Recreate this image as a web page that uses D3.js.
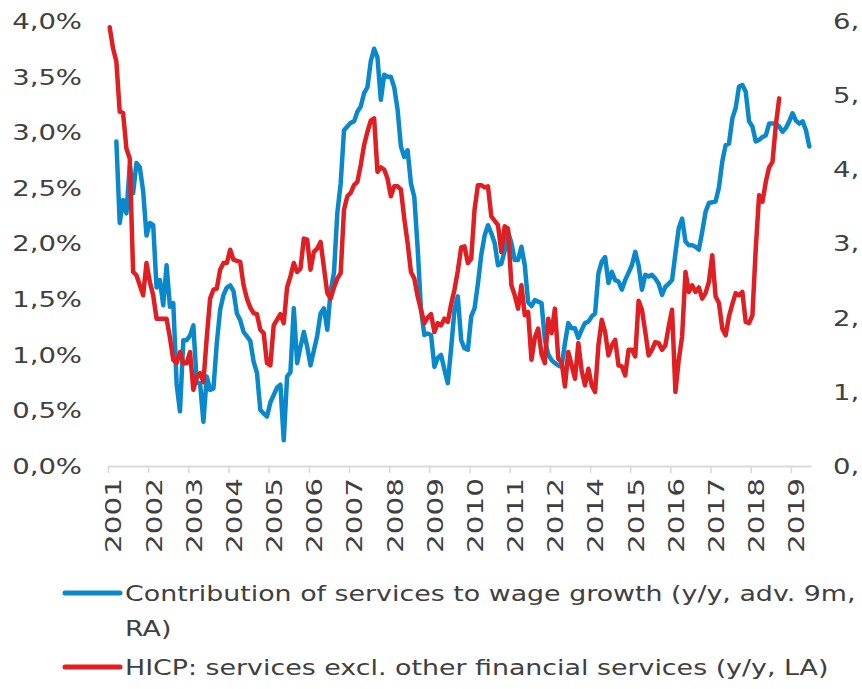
<!DOCTYPE html>
<html><head><meta charset="utf-8">
<script src="https://cdn.jsdelivr.net/npm/d3@7"></script>
<style>body{margin:0;background:#fff;overflow:hidden}svg{display:block}</style>
</head><body><svg id="c" width="862" height="689"></svg>
<script>
// ---------------- data ----------------
const nCategories = 210; // monthly categories, Jan 2001 onwards
const tickLabels = ["2001","2002","2003","2004","2005","2006","2007","2008","2009","2010","2011","2012","2014","2015","2016","2017","2018","2019"];
const leftTicks = [0, 0.5, 1, 1.5, 2, 2.5, 3, 3.5, 4];
const rightTicks = [0, 1, 2, 3, 4, 5, 6];

// HICP: services excl. other financial services (y/y, LA), %
const hicpServices = [
 3.94,3.75,3.63,3.18,3.17,2.85,2.76,1.74,1.71,1.62,
 1.53,1.82,1.65,1.53,1.32,1.32,1.32,1.32,1.15,0.95,
 0.92,1.02,0.92,0.92,1.02,0.68,0.80,0.83,0.75,1.15,
 1.50,1.58,1.59,1.76,1.82,1.82,1.94,1.85,1.84,1.83,
 1.62,1.50,1.42,1.37,1.36,1.22,1.19,0.92,0.90,1.26,
 1.31,1.36,1.28,1.60,1.70,1.82,1.74,1.77,2.04,2.03,
 1.76,1.92,1.95,2.01,1.78,1.55,1.50,1.60,1.68,1.73,
 2.30,2.42,2.45,2.52,2.55,2.70,2.88,3.00,3.10,3.12,
 2.64,2.68,2.66,2.58,2.42,2.51,2.51,2.48,2.22,2.00,
 1.74,1.68,1.52,1.40,1.28,1.33,1.36,1.20,1.28,1.26,
 1.32,1.29,1.45,1.58,1.75,1.96,1.97,1.82,1.86,2.30,
 2.52,2.52,2.50,2.51,2.24,2.20,2.16,1.92,2.15,2.13,
 1.62,1.53,1.41,1.62,1.35,1.38,0.95,1.15,1.23,1.00,
 0.92,1.32,1.19,1.41,0.96,0.93,0.71,1.02,0.90,0.78,
 1.10,0.85,0.72,0.87,0.72,0.66,1.08,1.31,1.20,0.99,
 1.08,1.13,0.90,0.89,0.81,1.04,1.04,0.98,1.48,1.40,
 1.20,0.99,1.04,1.11,1.10,1.04,1.08,1.25,1.40,0.66,
 0.95,1.16,1.74,1.56,1.62,1.56,1.60,1.50,1.55,1.65,
 1.89,1.52,1.46,1.23,1.17,1.34,1.45,1.55,1.53,1.56,
 1.29,1.28,1.35,1.95,2.43,2.37,2.55,2.68,2.73,3.06,
 3.30
];

// Contribution of services to wage growth (y/y, adv. 9m, RA)
const wageContribution = [
 null,null,4.37,3.27,3.58,3.40,4.05,3.67,4.08,4.02,
 3.70,3.10,3.27,3.24,2.40,2.50,2.16,2.70,2.14,2.19,
 1.10,0.73,1.69,1.69,1.75,1.89,1.12,1.11,0.59,1.20,
 1.02,1.04,1.65,2.10,2.30,2.40,2.43,2.35,2.05,1.96,
 1.80,1.74,1.68,1.40,1.25,0.75,0.70,0.66,0.85,0.95,
 1.05,1.09,0.34,1.20,1.26,2.12,1.38,1.60,1.80,1.60,
 1.35,1.55,1.75,2.05,2.12,1.83,2.35,2.60,3.40,3.80,
 4.52,4.57,4.62,4.64,4.77,4.84,5.02,5.10,5.45,5.62,
 5.50,4.93,5.27,5.24,5.24,5.10,4.80,4.30,4.16,4.25,
 3.80,3.62,2.93,2.10,1.76,1.78,1.76,1.33,1.45,1.49,
 1.29,1.11,1.58,2.10,2.28,1.69,1.58,1.56,2.01,2.12,
 2.45,2.84,3.10,3.24,3.13,3.00,2.70,2.72,2.90,3.15,
 3.00,2.77,2.77,2.95,2.70,2.20,2.15,2.23,2.21,2.19,
 1.69,1.50,1.42,1.38,1.35,1.33,1.65,1.92,1.85,1.85,
 1.72,1.83,1.92,1.94,2.01,2.05,2.59,2.75,2.81,2.46,
 2.61,2.50,2.48,2.37,2.50,2.60,2.70,2.88,2.70,2.37,
 2.57,2.55,2.57,2.52,2.45,2.30,2.41,2.45,2.50,2.86,
 3.20,3.33,3.02,2.97,2.97,2.95,2.91,3.15,3.42,3.54,
 3.55,3.56,3.75,4.10,4.32,4.34,4.68,4.82,5.11,5.13,
 5.04,4.64,4.57,4.37,4.39,4.43,4.45,4.61,4.61,4.61,
 4.57,4.50,4.55,4.64,4.75,4.65,4.61,4.64,4.52,4.30
];

const legendLines = [
  ["Contribution of services to wage growth (y/y, adv. 9m,", "RA)"],
  ["HICP: services excl. other financial services (y/y, LA)"]
];

// ---------------- chart ----------------
const FONT = "'DejaVu Sans', Verdana, sans-serif";
const FS = 22;
const SX = 1.25;     // horizontal stretch of axis labels
const SXR = 1.34;    // stretch of rotated year labels
const TXT = "#404040";
const BLUE = "#0A88CC";
const RED = "#DF1F22";

const svg = d3.select("#c");
const x = d3.scaleLinear().domain([0, nCategories]).range([108, 811]);
const yL = d3.scaleLinear().domain([0, 4]).range([465.5, 20.5]);
const yR = d3.scaleLinear().domain([0, 6]).range([465.5, 20.5]);

const fmt = d3.formatLocale({decimal: ",", thousands: ".", grouping: [3], currency: ["", "€"]}).format(".1f");

// left axis
const gL = svg.append("g").attr("transform", "translate(82,0)")
  .call(d3.axisLeft(yL).tickValues(leftTicks).tickSize(0).tickPadding(0).tickFormat(d => fmt(d) + "%"));
gL.select(".domain").remove();
gL.attr("font-family", FONT).attr("font-size", FS);
gL.selectAll("text").attr("x", 0).attr("dy", "0.36em").attr("fill", TXT)
  .attr("transform", `scale(${SX},1)`);

// right axis (labels are cut at the picture edge in the original: only "n," is visible)
const gR = svg.append("g").attr("transform", "translate(833,0)")
  .call(d3.axisRight(yR).tickValues(rightTicks).tickSize(0).tickPadding(0).tickFormat(d => d + ","));
gR.select(".domain").remove();
gR.attr("font-family", FONT).attr("font-size", FS);
gR.selectAll("text").attr("x", 0).attr("dy", "0.36em").attr("fill", TXT)
  .attr("transform", `scale(${SX},1)`);

// bottom axis
const tickIdx = tickLabels.map((d, i) => i * 12);
const gB = svg.append("g").attr("transform", "translate(0,466)")
  .call(d3.axisBottom(x).tickValues(tickIdx).tickSize(7).tickSizeOuter(0)
    .tickFormat((d, i) => tickLabels[i]));
gB.select(".domain").attr("stroke", "#D9D9D9").attr("stroke-width", 2);
gB.selectAll(".tick line").attr("stroke", "#D9D9D9").attr("stroke-width", 1.5);
gB.attr("font-family", FONT).attr("font-size", FS);
gB.selectAll("text").attr("y", null).attr("dy", "0.36em").attr("fill", TXT)
  .attr("text-anchor", "end")
  .attr("transform", `translate(5,12) rotate(-90) scale(${SXR},1)`);

// lines
const lineL = d3.line().defined(d => d != null).x((d, i) => x(i + 0.5)).y(d => yL(d));
const lineR = d3.line().defined(d => d != null).x((d, i) => x(i + 0.5)).y(d => yR(d));

svg.append("path").datum(wageContribution).attr("d", lineR)
  .attr("fill", "none").attr("stroke", BLUE).attr("stroke-width", 4.5)
  .attr("stroke-linejoin", "round").attr("stroke-linecap", "round");
svg.append("path").datum(hicpServices).attr("d", lineL)
  .attr("fill", "none").attr("stroke", RED).attr("stroke-width", 4.5)
  .attr("stroke-linejoin", "round").attr("stroke-linecap", "round");

// legend
const legColors = [BLUE, RED];
const legY = [593, 667];
const LEG_X = 125, LEG_W = 731; // first legend line spans x 125..856
const lg = svg.append("g").attr("font-family", FONT).attr("font-size", FS).attr("fill", TXT);
const probe = lg.append("text").text(legendLines[0][0]);
const legSX = LEG_W / probe.node().getComputedTextLength();
probe.remove();
legendLines.forEach((lines, k) => {
  lg.append("line").attr("x1", 65).attr("x2", 120).attr("y1", legY[k]).attr("y2", legY[k])
    .attr("stroke", legColors[k]).attr("stroke-width", 5).attr("stroke-linecap", "round");
  lines.forEach((t, j) => {
    lg.append("text").attr("dy", "0.36em")
      .attr("transform", `translate(${LEG_X},${legY[k] + j * 35}) scale(${legSX},1)`)
      .text(t);
  });
});
</script>
</body></html>
